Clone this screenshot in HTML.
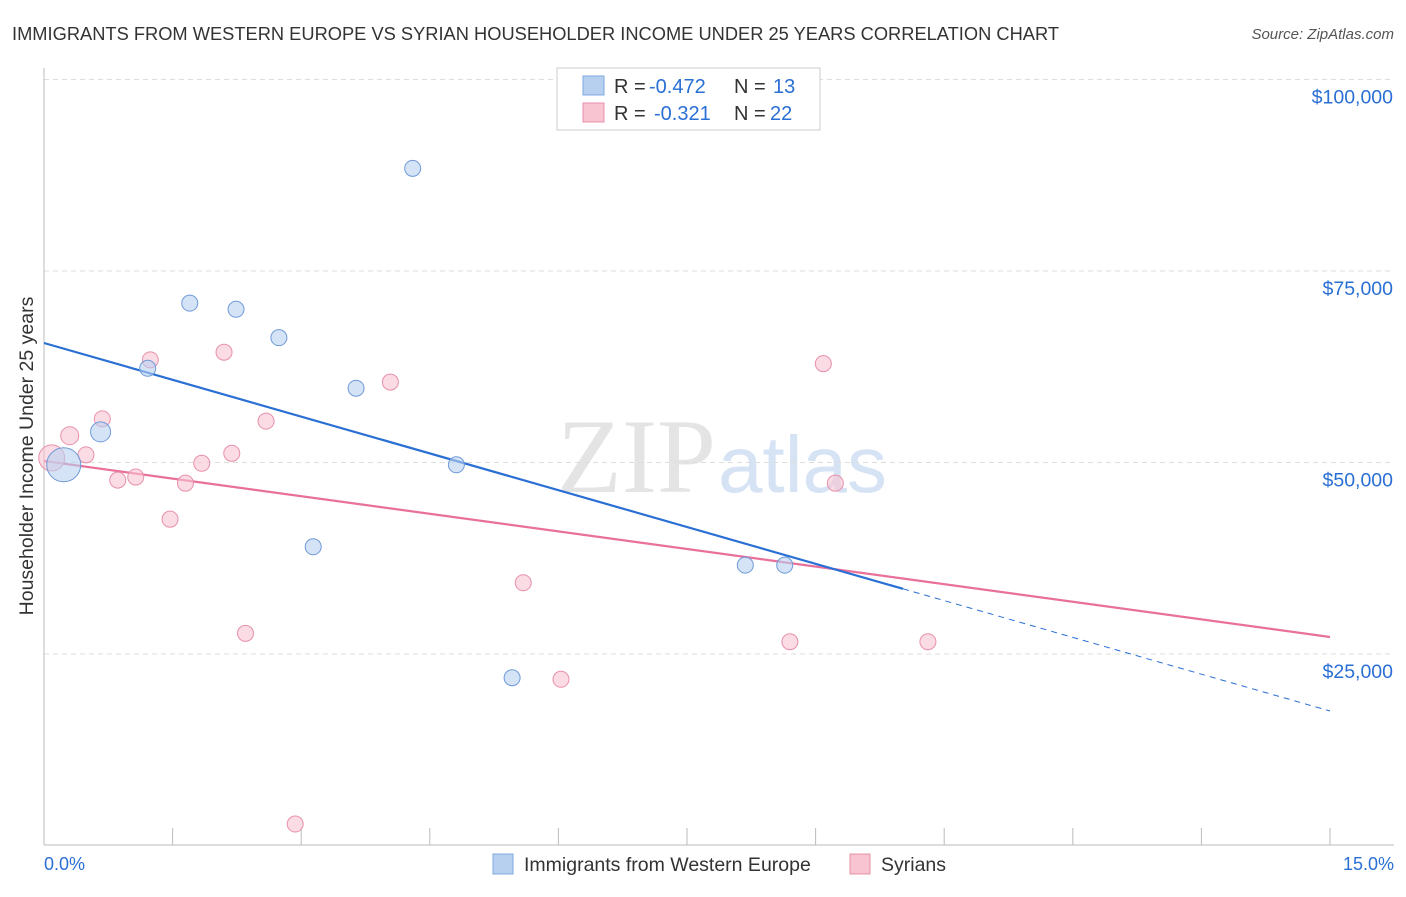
<!DOCTYPE html>
<html><head><meta charset="utf-8"><style>
body{margin:0;background:#fff;font-family:"Liberation Sans",sans-serif}
</style></head><body>
<svg id="c" width="1406" height="892" xmlns="http://www.w3.org/2000/svg" font-family="Liberation Sans, sans-serif">
<text x="12" y="40" font-size="18" fill="#333" textLength="1047" lengthAdjust="spacingAndGlyphs">IMMIGRANTS FROM WESTERN EUROPE VS SYRIAN HOUSEHOLDER INCOME UNDER 25 YEARS CORRELATION CHART</text>
<text x="1394" y="39" font-size="15" fill="#555" font-style="italic" text-anchor="end">Source: ZipAtlas.com</text>
<text x="716" y="492" font-size="106" fill="#e4e4e4" text-anchor="end" font-family="Liberation Serif, serif">ZIP</text>
<text x="718" y="492" font-size="80" fill="#d6e3f5">atlas</text>
<text x="33" y="456" font-size="19.5" fill="#333" text-anchor="middle" transform="rotate(-90 33 456)">Householder Income Under 25 years</text>
<g id="grid"></g><g id="lines"></g><g id="pts"></g>
<rect x="557" y="68" width="263" height="62" fill="#fff" stroke="#ccc"/>
<rect x="583" y="76" width="21" height="19" fill="#b8d0f0" stroke="#7fa8e0"/>
<rect x="583" y="103" width="21" height="19" fill="#f8c4d2" stroke="#e890aa"/>
<text x="614" y="93" font-size="20" fill="#333">R = <tspan x="649" fill="#2a6fd4">-0.472</tspan><tspan x="734">N = </tspan><tspan x="773" fill="#2a6fd4">13</tspan></text>
<text x="614" y="120" font-size="20" fill="#333">R = <tspan x="654" fill="#2a6fd4">-0.321</tspan><tspan x="734">N = </tspan><tspan x="770" fill="#2a6fd4">22</tspan></text>
<rect x="493" y="854" width="20" height="20" fill="#b8d0f0" stroke="#7fa8e0"/>
<text x="524" y="871" font-size="19.5" fill="#333">Immigrants from Western Europe</text>
<rect x="850" y="854" width="20" height="20" fill="#f8c4d2" stroke="#e890aa"/>
<text x="881" y="871" font-size="19.5" fill="#333">Syrians</text>
<text x="44" y="870" font-size="18" fill="#2a6fd4">0.0%</text>
<text x="1394" y="870" font-size="18" fill="#2a6fd4" text-anchor="end">15.0%</text>
</svg>
<script>
const yTicks=[25000,50000,75000,100000];
const yTickLabels=["$25,000","$50,000","$75,000","$100,000"];
const blueX=[0.23,0.66,1.21,1.70,2.24,2.74,3.14,3.64,4.30,4.81,5.46,8.18,8.64];
const blueY=[49700,54000,62300,70800,70000,66300,39000,59700,88400,49700,21900,36600,36600];
const blueR=[17,10,8,8,8,8,8,8,8,8,8,8,8];
const pinkX=[0.09,0.30,0.49,0.68,0.86,1.07,1.24,1.47,1.65,1.84,2.10,2.19,2.35,2.59,2.93,4.04,5.59,6.03,8.70,9.09,9.23,10.31];
const pinkY=[50600,53500,51000,55700,47700,48100,63400,42600,47300,49900,64400,51200,27700,55400,2800,60500,34300,21700,26600,62900,47300,26600];
const pinkR=[13,9,8,8,8,8,8,8,8,8,8,8,8,8,8,8,8,8,8,8,8,8];
const blueTrend=[65600,17560]; const blueSolidEnd=10.02;
const pinkTrend=[50200,27220];
const NS="http://www.w3.org/2000/svg";
const xs=v=>44+v*(1330-44)/15;
const ys=v=>654-(v-25000)*191.5/25000;
function mk(t,a,p){const e=document.createElementNS(NS,t);for(const k in a)e.setAttribute(k,a[k]);p.appendChild(e);return e;}
const g=document.getElementById('grid');
yTicks.forEach((t,i)=>{
 const l=mk('line',{x1:44,x2:1394,y1:ys(t),y2:ys(t),stroke:'#ddd','stroke-dasharray':'5,4'},g);
 
 
 const tx=mk('text',{x:1393,y:ys(t)+24,'font-size':19.5,fill:'#2a6fd4','text-anchor':'end'},g);
 tx.textContent=yTickLabels[i];
 
 
});
const ax=mk('line',{x1:44,x2:1394,y1:845,y2:845,stroke:'#bbb'},g);


const ay=mk('line',{x1:44,x2:44,y1:68,y2:845,stroke:'#bbb'},g);


for(let i=1;i<=10;i++){const tk=mk('line',{x1:xs(i*1.5),x2:xs(i*1.5),y1:828,y2:845,stroke:'#bbb'},g);
 
 }
const L=document.getElementById('lines');
const lerp=(a,t)=>a[0]+(a[1]-a[0])*t/15;
let e=mk('line',{x1:xs(0),y1:ys(pinkTrend[0]),x2:xs(15),y2:ys(pinkTrend[1]),stroke:'#e8709a','stroke-width':2.2},L);


e=mk('line',{x1:xs(0),y1:ys(blueTrend[0]),x2:xs(blueSolidEnd),y2:ys(lerp(blueTrend,blueSolidEnd)),stroke:'#2a6fd4','stroke-width':2.2},L);


e=mk('line',{x1:xs(blueSolidEnd),y1:ys(lerp(blueTrend,blueSolidEnd)),x2:xs(15),y2:ys(blueTrend[1]),stroke:'#2a6fd4','stroke-width':1,'stroke-dasharray':'6,5'},L);


const P=document.getElementById('pts');
pinkX.forEach((x,i)=>{const c=mk('circle',{cx:xs(x),cy:ys(pinkY[i]),r:pinkR[i],fill:'#f8c4d2','fill-opacity':0.6,stroke:'#e890aa'},P);
 
 });
blueX.forEach((x,i)=>{const c=mk('circle',{cx:xs(x),cy:ys(blueY[i]),r:blueR[i],fill:'#b8d0f0','fill-opacity':0.6,stroke:'#6f9ad8'},P);
 
 });
</script>
</body></html>
